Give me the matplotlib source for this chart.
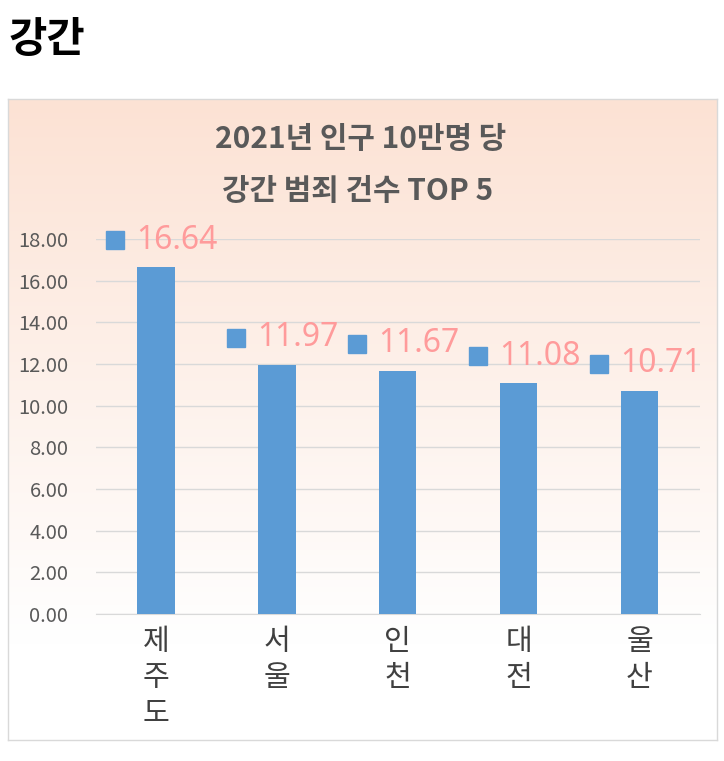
import numpy as np
import matplotlib
matplotlib.use("Agg")
import matplotlib.pyplot as plt
import matplotlib.transforms as mtransforms

plt.rcParams['font.family'] = ['Noto Sans CJK KR', 'DejaVu Sans']

# -------------------------
# DATA
# -------------------------
regions = ["제주도", "서울", "인천", "대전", "울산"]
values = [16.64, 11.97, 11.67, 11.08, 10.71]
yticks = [0, 2, 4, 6, 8, 10, 12, 14, 16, 18]

BLUE = "#5B9BD5"
PINK = "#FF9B9B"
GREY = "#595959"

W, H = 724, 761
fig = plt.figure(figsize=(W / 100, H / 100), dpi=100)

# page title
fig.text(9 / W, 1 - 40 / H, "강간", fontsize=30, fontweight="bold",
         color="black", ha="left", va="center")

# -------------------------
# CHART BOX WITH GRADIENT
# -------------------------
bx0, by0, bx1, by1 = 8, 99, 717, 740
bg = fig.add_axes([bx0 / W, 1 - by1 / H, (bx1 - bx0) / W, (by1 - by0) / H])
top = np.array([252, 226, 212]) / 255
bot = np.array([255, 255, 255]) / 255
t = np.linspace(0, 1, 256)[:, None]
t = np.clip(t / 0.85, 0, 1)
grad = top[None, :] * (1 - t) + bot[None, :] * t
grad = np.repeat(grad[:, None, :], 2, axis=1)
bg.imshow(grad, aspect="auto", extent=[0, 1, 0, 1], origin="upper")
bg.set_xlim(0, 1)
bg.set_ylim(0, 1)
bg.set_xticks([])
bg.set_yticks([])
for s in bg.spines.values():
    s.set_color("#D9D9D9")
    s.set_linewidth(1)

# chart title
fig.text(361 / W, 1 - 139 / H, "2021년 인구 10만명 당", fontsize=21.5,
         fontweight="bold", color=GREY, ha="center", va="center")
fig.text(358 / W, 1 - 191 / H, "강간 범죄 건수 TOP 5", fontsize=21.5,
         fontweight="bold", color=GREY, ha="center", va="center")

# -------------------------
# PLOT AREA
# -------------------------
px0, px1, py_top, py_bot = 95.5, 700, 239, 614
ax = fig.add_axes([px0 / W, 1 - py_bot / H, (px1 - px0) / W, (py_bot - py_top) / H])
ax.patch.set_alpha(0)

x = np.arange(len(regions))
ax.bar(x, values, width=0.31, color=BLUE, zorder=3)

ax.set_xlim(-0.5, len(regions) - 0.5)
ax.set_ylim(0, 18)
ax.set_yticks(yticks)
ax.set_yticklabels([f"{v:.2f}" for v in yticks], fontsize=14.5, color=GREY)
ax.yaxis.grid(True, color="#D9D9D9", linewidth=1, zorder=0)
ax.tick_params(axis="y", length=0, pad=19.5)
ax.tick_params(axis="x", length=0, pad=9)
ax.set_xticks(x)
ax.set_xticklabels(["\n".join(r) for r in regions], fontsize=21,
                   color="#404040", linespacing=1.28, va="top")
for name in ["top", "right", "left"]:
    ax.spines[name].set_visible(False)
ax.spines["bottom"].set_color("#D9D9D9")

# data labels with legend keys
for xi, v in zip(x, values):
    ax.annotate(f"{v:.2f}", (xi, v), xytext=(15, 19.5), textcoords="offset points",
                ha="center", va="center", fontsize=23, color=PINK,
                family=["Noto Sans", "DejaVu Sans"], annotation_clip=False)
    tr = mtransforms.offset_copy(ax.transData, fig=fig, x=-29.5, y=19.5, units="points")
    ax.plot([xi], [v], marker="s", markersize=12.5, color=BLUE, transform=tr,
            clip_on=False, zorder=4, linestyle="none")

fig.savefig("out.png", dpi=100)
